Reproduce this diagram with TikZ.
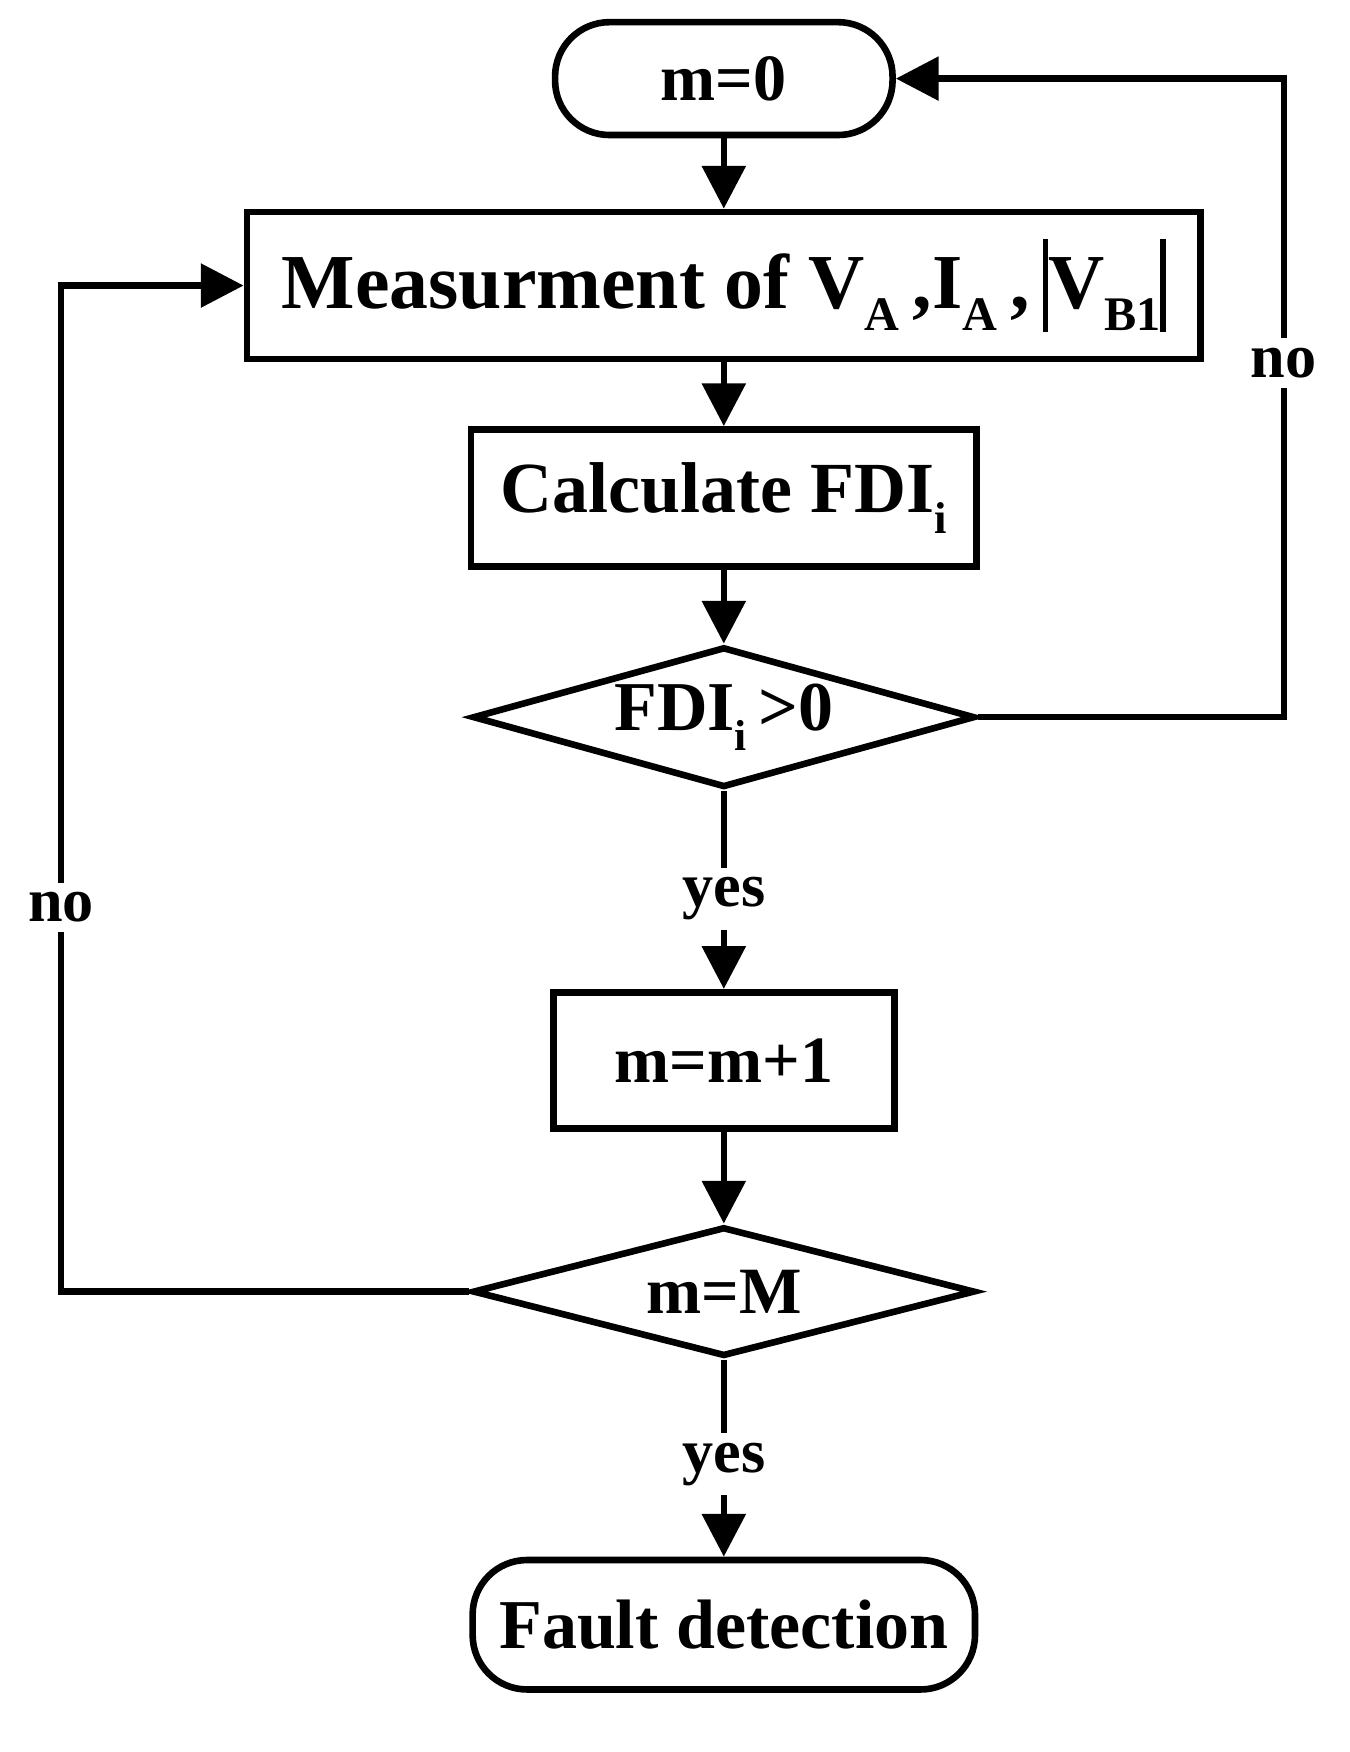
\documentclass[tikz,border=0pt]{standalone}
\usepackage{fontspec}
\setmainfont{Liberation Serif}
\usetikzlibrary{arrows.meta,shapes.geometric}
\newcommand{\sbs}[1]{\raisebox{-0.28em}{\scalebox{0.62}{#1}}}
\newcommand{\vbr}{\rule[-0.3em]{0.07em}{1.2em}}
\begin{document}
\begin{tikzpicture}[x=0.02cm,y=-0.02cm,line width=3.4pt,
  arr/.style={-{Triangle[length=22pt,width=22pt]}},
  box/.style={draw,rectangle,inner sep=0pt,font=\bfseries},
  dia/.style={draw,diamond,aspect=3.6,inner sep=0pt,font=\bfseries},
  lab/.style={font=\bfseries\fontsize{32}{32}\selectfont}]
\useasboundingbox (0,0) rectangle (1219,1583);
\node[box,rounded corners=28pt,minimum width=6.1cm,minimum height=2.04cm,font=\bfseries\fontsize{34}{34}\selectfont] (m0) at (654,71) {m=0};
\node[box,minimum width=17.24cm,minimum height=2.66cm,font=\bfseries\fontsize{40}{40}\selectfont] (meas) at (654,258) {Measurment of V\sbs{A}\,,I\sbs{A}\,,\,\vbr V\sbs{B1}\vbr};
\node[box,minimum width=9.14cm,minimum height=2.48cm,font=\bfseries\fontsize{37}{37}\selectfont] (calc) at (654,450) {Calculate FDI\sbs{i}};
\node[dia,minimum width=9.08cm,minimum height=2.54cm,font=\bfseries\fontsize{36}{36}\selectfont] (d1) at (654,648) {\raisebox{-0.3em}{FDI\sbs{i}\,>0}};
\node[lab] (y1) at (654,812) {yes};
\node[box,minimum width=6.16cm,minimum height=2.46cm,font=\bfseries\fontsize{34}{34}\selectfont] (inc) at (654,958) {m=m+1};
\node[dia,minimum width=9.08cm,minimum height=2.34cm,font=\bfseries\fontsize{34}{34}\selectfont] (d2) at (654,1167) {m=M};
\node[lab] (y2) at (654,1323) {yes};
\node[box,rounded corners=28pt,minimum width=9.08cm,minimum height=2.34cm,font=\bfseries\fontsize{36}{36}\selectfont] (fd) at (654,1468) {Fault detection};
\node[lab] (n1) at (1160,328) {no};
\node[lab] (n2) at (55,820) {no};
\draw[arr] (m0) -- (meas);
\draw[arr] (meas) -- (calc);
\draw[arr] (calc) -- (d1.north);
\draw (d1.south) -- (y1.north);
\draw[arr] (y1.south) -- (inc);
\draw[arr] (inc) -- (d2.north);
\draw (d2.south) -- (y2.north);
\draw[arr] (y2.south) -- (fd);
\draw (d1.east) -| (n1.south);
\draw[arr] (n1.north) |- (m0.east);
\draw (d2.west) -| (n2.south);
\draw[arr] (n2.north) |- (meas.west);
\end{tikzpicture}
\end{document}
